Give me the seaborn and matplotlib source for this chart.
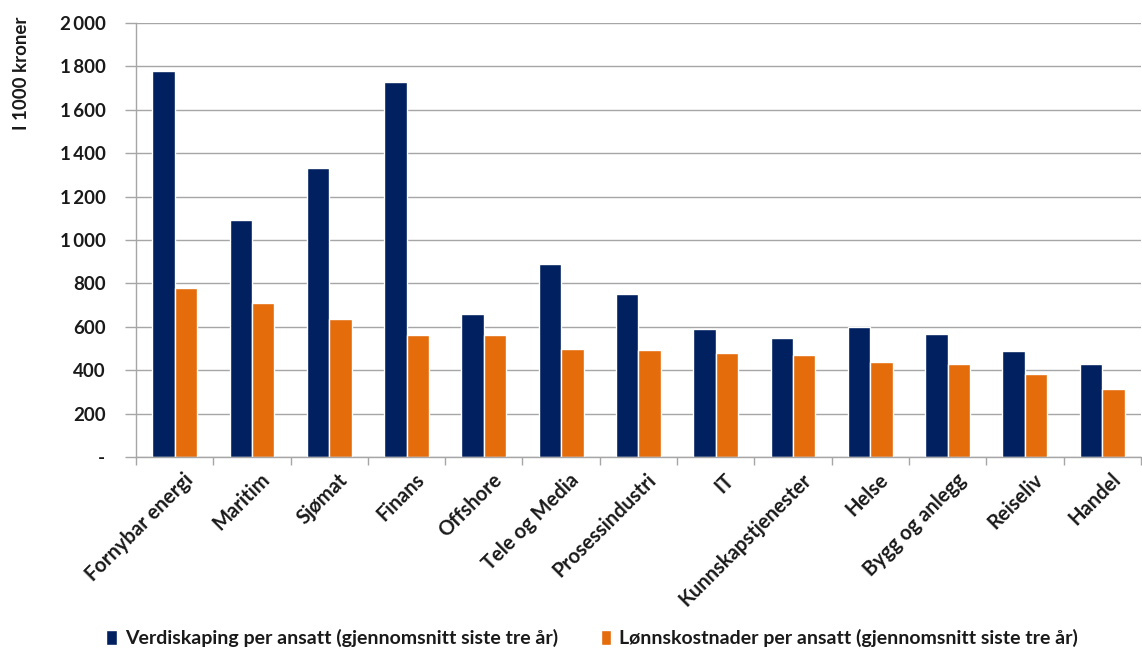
import matplotlib
matplotlib.use("Agg")
import matplotlib.pyplot as plt
import matplotlib.ticker as mticker
import matplotlib.transforms as mtransforms
import numpy as np
import pandas as pd
import seaborn as sns

categories = ["Fornybar energi", "Maritim", "Sjømat", "Finans", "Offshore",
              "Tele og Media", "Prosessindustri", "IT", "Kunnskapstjenester",
              "Helse", "Bygg og anlegg", "Reiseliv", "Handel"]
verdiskaping = [1780, 1090, 1330, 1730, 660, 890, 750, 590, 547, 600, 565, 490, 427]
lonnskostnader = [778, 710, 638, 562, 562, 497, 494, 478, 470, 438, 430, 382, 314]
series_names = ["Verdiskaping per ansatt (gjennomsnitt siste tre år)",
                "Lønnskostnader per ansatt (gjennomsnitt siste tre år)"]
y_ticks = [0, 200, 400, 600, 800, 1000, 1200, 1400, 1600, 1800, 2000]

df = pd.DataFrame({
    "Næring": categories * 2,
    "Verdi": verdiskaping + lonnskostnader,
    "Serie": [series_names[0]] * len(categories) + [series_names[1]] * len(categories),
})

sns.set_theme(style="white")
plt.rcParams["font.family"] = ["Lato", "DejaVu Sans"]
plt.rcParams["font.weight"] = "bold"

fig = plt.figure(figsize=(11.42, 6.52), dpi=100)
ax = fig.add_axes([136 / 1142, 1 - 457 / 652, 1 - 136 / 1142 - 0.001, (457 - 23) / 652])

palette = ["#00205F", "#E46C0A"]
sns.barplot(data=df, x="Næring", y="Verdi", hue="Serie", palette=palette,
            width=0.58, saturation=1, ax=ax, legend=True)

grid_color = "#a6a6a6"
text_color = "#1a1a1a"
fs = 13.5
ax.set_ylim(0, 2000)
ax.set_xlim(-0.5, len(categories) - 0.5)
ax.set_yticks(y_ticks)


def fmt(v, _pos):
    if v == 0:
        return "-"
    return f"{int(v):,}".replace(",", "\u2009")


ax.yaxis.set_major_formatter(mticker.FuncFormatter(fmt))
ax.yaxis.grid(True, color=grid_color, linewidth=1)
ax.set_axisbelow(True)
for side in ("top", "right"):
    ax.spines[side].set_visible(False)
for side in ("left", "bottom"):
    ax.spines[side].set_color(grid_color)
    ax.spines[side].set_linewidth(1)

ax.tick_params(axis="y", which="major", length=8, color=grid_color, width=1,
               pad=14, labelsize=fs, labelcolor=text_color, left=True)
ax.set_xticks(np.arange(-0.5, len(categories), 1.0), minor=True)
ax.tick_params(axis="x", which="minor", length=6, color=grid_color, width=1, bottom=True)
ax.tick_params(axis="x", which="major", length=0, pad=9, labelsize=14.5, labelcolor=text_color)
shift = mtransforms.ScaledTranslation(8 / 100, 0, fig.dpi_scale_trans)
for lbl in ax.get_xticklabels():
    lbl.set_rotation(45)
    lbl.set_ha("right")
    lbl.set_rotation_mode("anchor")
    lbl.set_fontweight("bold")
    lbl.set_transform(lbl.get_transform() + shift)
for lbl in ax.get_yticklabels():
    lbl.set_fontweight("bold")

ax.set_xlabel("")
ax.set_ylabel("")
fig.text(22 / 1142, 1 - 73 / 652, "I 1000 kroner", rotation=90, ha="center", va="center",
         fontsize=fs, fontweight="bold", color=text_color)

handles, labels = ax.get_legend_handles_labels()
ax.legend_.remove()
fig.legend(handles, labels, loc="center", bbox_to_anchor=(592 / 1142, 1 - 638 / 652),
           ncol=2, frameon=False, handlelength=0.55, handleheight=0.85, handletextpad=0.4,
           columnspacing=2.2, prop={"weight": "bold", "size": 14})
for t in fig.legends[0].get_texts():
    t.set_color(text_color)

fig.savefig("out.png", dpi=100)
